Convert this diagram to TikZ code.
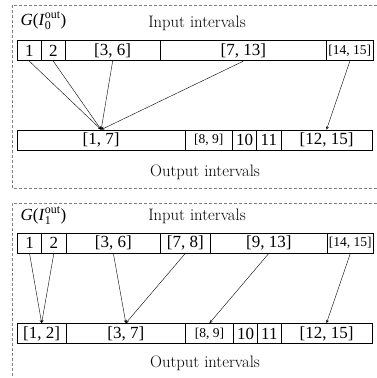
\documentclass[tikz,border=0pt]{standalone}
\usepackage{fontspec}
\usepackage{amsmath}
\newfontfamily\tms{Liberation Serif}
\begin{document}
\begin{tikzpicture}[>=stealth, x=1pt, y=-1pt,
    cell/.style={draw, line width=.7pt, minimum height=20pt, inner sep=0pt, font={\tms\fontsize{17}{17}\selectfont}},
    smallcell/.style={cell, font={\tms\fontsize{13.5}{13.5}\selectfont}},
    panel/.style={gray, densely dashed, line width=.5pt},
    caption/.style={inner sep=0pt, font={\fontsize{16.6}{16.6}\selectfont}},
    title/.style={anchor=west, inner sep=0pt, font={\tms\fontsize{17}{17}\selectfont}}]
\useasboundingbox (0,0) rectangle (377,378);

% G(I_0^out)
\draw[panel](377,5)--(12,5)--(12,188)--(377,188);
\node[title] (g0) at (20.5,21) {\textit{G}(\textit{I}$_{\text{\tms 0}}^{\text{\tms out}}$)};
\node[caption] (in0) at (197,23) {Input intervals};
\node[caption] (out0) at (205,172) {Output intervals};
\foreach \nm/\xa/\xb/\st/\lab in {i01/17.3/41.3/cell/1, i02/41.3/65.3/cell/2, i03/65.3/160/cell/{[3, 6]},
    i04/160/326.7/cell/{[7, 13]}, i05/326.7/373/smallcell/{[14, 15]}}
{
    \node[\st, minimum width={(\xb-\xa)*1pt}] (\nm) at ({(\xa+\xb)/2},50.8) {\lab};
}
\foreach \nm/\xa/\xb/\st/\lab in {o01/17.3/185/cell/{[1, 7]}, o02/185/232.3/smallcell/{[8, 9]}, o03/232.3/256.7/cell/10,
    o04/256.7/281/cell/11, o05/281/372/cell/{[12, 15]}}
{
    \node[\st, minimum width={(\xb-\xa)*1pt}] (\nm) at ({(\xa+\xb)/2},140) {\lab};
}
\foreach \a/\b in {i01/o01,i02/o01,i03/o01,i04/o01,i05/o05}
{
    \draw[->](\a.south)--(\b.north);
}

% G(I_1^out)
\draw[panel](377,203)--(12,203)--(12,378);
\node[title] (g1) at (20.5,216) {\textit{G}(\textit{I}$_{\text{\tms 1}}^{\text{\tms out}}$)};
\node[caption] (in1) at (197,216) {Input intervals};
\node[caption] (out1) at (205,363) {Output intervals};
\foreach \nm/\xa/\xb/\st/\lab in {i11/17.3/41.7/cell/1, i12/41.7/66/cell/2, i13/66/160.7/cell/{[3, 6]},
    i14/160.7/210/cell/{[7, 8]}, i15/210/327.7/cell/{[9, 13]}, i16/327.7/373/smallcell/{[14, 15]}}
{
    \node[\st, minimum width={(\xb-\xa)*1pt}] (\nm) at ({(\xa+\xb)/2},243) {\lab};
}
\foreach \nm/\xa/\xb/\st/\lab in {o11/17.3/66/cell/{[1, 2]}, o12/66/185.7/cell/{[3, 7]}, o13/185.7/233.3/smallcell/{[8, 9]},
    o14/233.3/257.7/cell/10, o15/257.7/281/cell/11, o16/281/372/cell/{[12, 15]}}
{
    \node[\st, minimum width={(\xb-\xa)*1pt}] (\nm) at ({(\xa+\xb)/2},333.5) {\lab};
}
\foreach \a/\b in {i11/o11,i12/o11,i13/o12,i14/o12,i15/o13,i16/o16}
{
    \draw[->](\a.south)--(\b.north);
}

\end{tikzpicture}
\end{document}
